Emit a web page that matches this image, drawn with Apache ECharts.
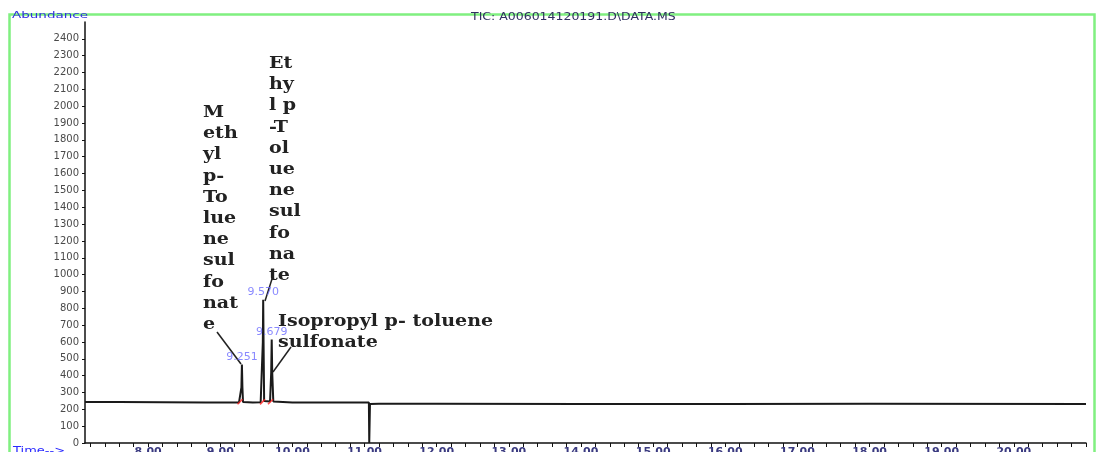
<!DOCTYPE html>
<html>
<head>
<meta charset="UTF-8">
<title>TIC chromatogram</title>
<script src="https://cdn.jsdelivr.net/npm/echarts@6/dist/echarts.min.js"></script>
<style>
  html, body { margin: 0; padding: 0; background: #fff; }
  #container { width: 1097px; height: 452px; }
</style>
</head>
<body>
<div id="container"></div>

<script type="text/javascript">
// trace (time in min, abundance)
var traceTime  = [7.125, 7.6, 8.2, 8.8, 9.20, 9.26, 9.285, 9.293, 9.300, 9.307, 9.315, 9.45,
                  9.560, 9.582, 9.590, 9.595, 9.600, 9.608, 9.690, 9.706, 9.713, 9.720, 9.735,
                  10.0, 10.6, 11.06, 11.065, 11.075, 11.2, 12.0, 14.0, 16.0, 18.0, 21.0];
var traceAbund = [244, 243, 242, 240, 240, 241, 246, 330, 466, 330, 244, 240,
                  242, 250, 600, 851, 600, 250, 246, 420, 614, 420, 246,
                  241, 240, 240, 0, 232, 233, 233, 232, 232, 233, 232];

// labelled peaks
var peakTimes  = [9.300, 9.595, 9.713];
var peakAbund  = [466, 851, 614];
var peakLabels = ['9.251', '9.570', '9.679'];

// red integration marks at the peak bases
var baseMarkTimes = [9.274, 9.585, 9.696];
var baseMarkAbund = [245, 244, 245];

// axis labels
var xTickLabels = [8, 9, 10, 11, 12, 13, 14, 15, 16, 17, 18, 19, 20];

// compound names, wrapped the way they are in the picture
var methylName = 'M\neth\nyl\np-\nTo\nlue\nne\nsul\nfo\nnat\ne';
var ethylName  = 'Et\nhy\nl p\n-T\nol\nue\nne\nsul\nfo\nna\nte';
var isoName    = 'Isopropyl p- toluene\nsulfonate';
var titleText  = 'TIC: A006014120191.D\\DATA.MS';

var trace = traceTime.map(function (t, i) { return [t, traceAbund[i]]; });
var peaks = peakTimes.map(function (t, i) { return [t, peakAbund[i]]; });
var marks = baseMarkTimes.map(function (t, i) { return [t, baseMarkAbund[i]]; });

// small ticks every 0.2 min along the time axis
var minorTicks = [];
for (var k = 36; k <= 105; k++) { minorTicks.push(+(k * 0.2).toFixed(1)); }

var nameFont = { fontFamily: 'DejaVu Serif', fontWeight: 'bold', fontSize: 17, lineHeight: 21.2, fill: '#222', verticalAlign: 'top' };

var dom = document.getElementById('container');
var myChart = echarts.init(dom, null, { renderer: 'canvas' });
var option = {
    backgroundColor: '#fff',
    animation: false,
    grid: { left: 85, right: 11, top: 22, bottom: 9, outerBoundsMode: 'none', containLabel: false },
    xAxis: {
        type: 'value',
        min: 7.125,
        max: 21.0,
        splitLine: { show: false },
        axisLine: { lineStyle: { color: '#111', width: 1.5 } },
        axisTick: { customValues: minorTicks, length: 4, lineStyle: { color: '#111' } },
        axisLabel: {
            customValues: xTickLabels,
            margin: 4,
            fontFamily: 'DejaVu Sans',
            fontSize: 11,
            fontWeight: 'bold',
            color: '#3a3a80',
            formatter: function (v) { return v.toFixed(2); }
        }
    },
    yAxis: {
        type: 'value',
        min: 0,
        max: 2500,
        interval: 100,
        splitLine: { show: false },
        axisLine: { show: true, lineStyle: { color: '#111', width: 1.5 } },
        axisTick: { show: true, length: 3, lineStyle: { color: '#111' } },
        axisLabel: {
            showMaxLabel: false,
            margin: 6,
            fontFamily: 'DejaVu Sans',
            fontSize: 10,
            color: '#4a4a4a',
            formatter: function (v) { return String(v); }
        }
    },
    series: [
        {
            name: 'TIC',
            type: 'line',
            data: trace,
            symbol: 'none',
            lineStyle: { color: '#1a1a1a', width: 2 },
            z: 3
        },
        {
            name: 'base marks',
            type: 'scatter',
            data: marks,
            symbol: 'rect',
            symbolSize: [1.6, 7],
            symbolRotate: -45,
            itemStyle: { color: '#ff2020' },
            z: 4
        },
        {
            name: 'peaks',
            type: 'scatter',
            data: peaks,
            symbolSize: 0,
            label: {
                show: true,
                position: 'top',
                distance: 2,
                fontFamily: 'DejaVu Sans',
                fontSize: 11,
                color: '#6b6bff',
                formatter: function (p) { return peakLabels[p.dataIndex]; }
            },
            z: 5
        }
    ],
    graphic: [
        // green frame round the whole plot
        { type: 'rect', shape: { x: 9.5, y: 14.5, width: 1085, height: 460 }, style: { fill: null, stroke: '#80f080', lineWidth: 2.5 }, z: 0 },
        { type: 'text', x: 12, y: 11, scaleX: 1.5, style: { text: 'Abundance', fontFamily: 'DejaVu Sans', fontSize: 9, fill: '#3030e0', verticalAlign: 'top' } },
        { type: 'text', x: 471, y: 12, scaleX: 1.25, style: { text: titleText, fontFamily: 'DejaVu Sans', fontSize: 10, fill: '#303060', verticalAlign: 'top' } },
        { type: 'text', x: 13, y: 446, scaleX: 1.3, style: { text: 'Time-->', fontFamily: 'DejaVu Sans', fontSize: 10, fill: '#2a2aff', verticalAlign: 'top' } },

        { type: 'text', x: 203, y: 102, scaleX: 1.12, style: Object.assign({ text: methylName }, nameFont) },
        { type: 'text', x: 269, y: 53, scaleX: 1.12, style: Object.assign({ text: ethylName }, nameFont) },
        { type: 'text', x: 278, y: 311, scaleX: 1.12, style: Object.assign({ text: isoName }, nameFont) },

        // leader lines
        { type: 'line', shape: { x1: 217, y1: 332, x2: 241, y2: 364 }, style: { stroke: '#222', lineWidth: 1.5 } },
        { type: 'line', shape: { x1: 272, y1: 279, x2: 265, y2: 301 }, style: { stroke: '#222', lineWidth: 1.5 } },
        { type: 'line', shape: { x1: 291, y1: 347, x2: 273, y2: 372 }, style: { stroke: '#222', lineWidth: 1.5 } }
    ]
};
myChart.setOption(option, true);
</script>
</body>
</html>
